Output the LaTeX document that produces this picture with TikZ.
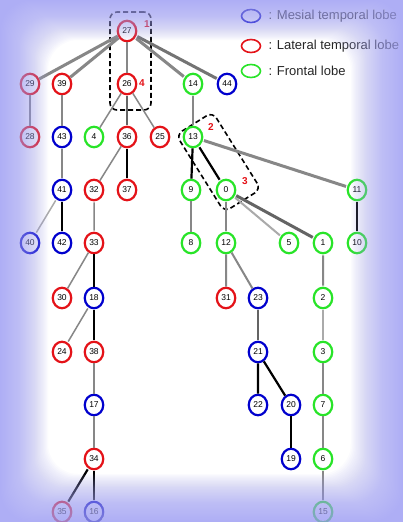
\documentclass[tikz,border=0pt]{standalone}
\usepackage{fontspec}
\setsansfont{Liberation Sans}
\usetikzlibrary{shapes.geometric,positioning}
\definecolor{mesialc}{RGB}{0,0,205}
\definecolor{lateralc}{RGB}{228,18,24}
\definecolor{frontalc}{RGB}{40,228,40}
\definecolor{lavc}{RGB}{165,165,245}
\definecolor{edgec}{RGB}{135,135,135}
\definecolor{edgedk}{RGB}{100,100,100}
\definecolor{edgelt}{RGB}{170,170,170}

\begin{document}
\begin{tikzpicture}[ % 图的属性
        x=1pt, y=-1pt, % 像素坐标, y 向下
        font=\sffamily,
        lobe/.style={ellipse, draw, fill=white, line width=2.2pt,
          minimum width=18.5pt, minimum height=20.5pt, inner sep=0pt,
          font=\sffamily\fontsize{8.5}{9}\selectfont},
        mes/.style={lobe, draw=mesialc}, % 内侧颞叶
        lat/.style={lobe, draw=lateralc}, % 外侧颞叶
        fro/.style={lobe, draw=frontalc}, % 额叶
        lk/.style={draw=edgec, line width=2pt, shorten <=1.1pt, shorten >=1.1pt},
        lkT/.style={lk, line width=3pt},
        lkS/.style={lk, line width=1.5pt},
        lkB/.style={lk, draw=black, line width=2.2pt},
        grp/.style={draw, line width=1.6pt, dash pattern=on 5pt off 3pt,
          rounded corners=7pt, inner sep=0pt},
        num/.style={text=lateralc, font=\sffamily\bfseries\fontsize{10}{12}\selectfont},
        legtext/.style={inner sep=0pt, text=black!85, font=\sffamily\fontsize{13}{15}\selectfont}
      ]
      \useasboundingbox (0,0) rectangle (403,522);
      \clip (0,0) rectangle (403,522);
      \fill[white] (0,0) rectangle (403,522);
      % \draw [help lines, step=20] (0,0) grid (403,522); % 辅助格点
      %% 分组虚线框
      \node[grp, minimum width=41, minimum height=98] (grpA) at (130.5,61) {};
      \node[grp, rotate=-58, minimum width=91, minimum height=43] (grpB) at (218.5,162) {};
      %% node
      \node[lat] (n27) at (127,31) {27};
      \node[lat] (n29) at (30,84) {29};
      \node[lat] (n39) at (62,84) {39};
      \node[lat] (n26) at (127,84) {26};
      \node[fro] (n14) at (193,84) {14};
      \node[mes] (n44) at (227,84) {44};
      \node[lat] (n28) at (30,137) {28};
      \node[mes] (n43) at (62,137) {43};
      \node[fro] (n4) at (94,137) {4};
      \node[lat] (n36) at (127,137) {36};
      \node[lat] (n25) at (160,137) {25};
      \node[fro] (n13) at (193,137) {13};
      \node[mes] (n41) at (62,190) {41};
      \node[lat] (n32) at (94,190) {32};
      \node[lat] (n37) at (127,190) {37};
      \node[fro] (n9) at (191,190) {9};
      \node[fro] (n0) at (226,190) {0};
      \node[fro] (n11) at (357,190) {11};
      \node[mes] (n40) at (30,243) {40};
      \node[mes] (n42) at (62,243) {42};
      \node[lat] (n33) at (94,243) {33};
      \node[fro] (n8) at (191,243) {8};
      \node[fro] (n12) at (226,243) {12};
      \node[fro] (n5) at (289,243) {5};
      \node[fro] (n1) at (323,243) {1};
      \node[fro] (n10) at (357,243) {10};
      \node[lat] (n30) at (62,298) {30};
      \node[mes] (n18) at (94,298) {18};
      \node[lat] (n31) at (226,298) {31};
      \node[mes] (n23) at (258,298) {23};
      \node[fro] (n2) at (323,298) {2};
      \node[lat] (n24) at (62,352) {24};
      \node[lat] (n38) at (94,352) {38};
      \node[mes] (n21) at (258,352) {21};
      \node[fro] (n3) at (323,352) {3};
      \node[mes] (n17) at (94,405) {17};
      \node[mes] (n22) at (258,405) {22};
      \node[mes] (n20) at (291,405) {20};
      \node[fro] (n7) at (323,405) {7};
      \node[lat] (n34) at (94,459) {34};
      \node[mes] (n19) at (291,459) {19};
      \node[fro] (n6) at (323,459) {6};
      \node[lat] (n35) at (62,512) {35};
      \node[mes] (n16) at (94,512) {16};
      \node[fro] (n15) at (323,512) {15};
      %% 编号
      \node[num] (lb1) at (147,24) {1};
      \node[num] (lb4) at (142,83) {4};
      \node[num] (lb2) at (211,127) {2};
      \node[num] (lb3) at (245,181) {3};
      %% path
      \draw[lkT] (n27) -- (n29) (n27) -- (n39) (n27) -- (n14);
      \draw[lkT, draw=edgedk!90] (n27) -- (n44);
      \draw[lk] (n27) -- (n26) (n29) -- (n28) (n39) -- (n43) (n43) -- (n41);
      \draw[lkS] (n26) -- (n4) (n26) -- (n25) (n36) -- (n32) (n32) -- (n33);
      \draw[lk, draw=edgedk] (n26) -- (n36);
      \draw[lkB] (n36) -- (n37);
      \draw[lk] (n14) -- (n13);
      \draw[lkB] (n13) -- (n9) (n13) -- (n0);
      \draw[lkT] (n13) -- (n11);
      \draw[lkS, draw=edgelt] (n41) -- (n40);
      \draw[lkB, line width=2.6pt] (n41) -- (n42);
      \draw[lk] (n9) -- (n8) (n0) -- (n12);
      \draw[lk, draw=edgelt] (n0) -- (n5);
      \draw[lkT, draw=edgedk] (n0) -- (n1);
      \draw[lkB, line width=2.6pt] (n11) -- (n10);
      \draw[lkS] (n33) -- (n30) (n18) -- (n24);
      \draw[lkB, line width=2.6pt] (n33) -- (n18) (n18) -- (n38);
      \draw[lk] (n12) -- (n31) (n12) -- (n23) (n1) -- (n2);
      \draw[lk, draw=edgedk] (n23) -- (n21);
      \draw[lk, draw=edgelt] (n2) -- (n3);
      \draw[lk] (n38) -- (n17) (n3) -- (n7) (n17) -- (n34) (n7) -- (n6) (n6) -- (n15);
      \draw[lkB] (n21) -- (n22) (n21) -- (n20) (n34) -- (n35);
      \draw[lkB, line width=2.6pt] (n20) -- (n19) (n34) -- (n16);
      %% 图例
      \node[ellipse, draw=mesialc, line width=1.6pt, minimum width=19, minimum height=13] (keyM) at (251,16) {};
      \node[ellipse, draw=lateralc, line width=1.6pt, minimum width=19, minimum height=13] (keyL) at (251,46) {};
      \node[ellipse, draw=frontalc, line width=1.6pt, minimum width=19, minimum height=13] (keyF) at (251,71) {};
      \node[legtext, right=7pt of keyM] (txtM) {: Mesial temporal lobe};
      \node[legtext, right=7pt of keyL] (txtL) {: Lateral temporal lobe};
      \node[legtext, right=7pt of keyF] (txtF) {: Frontal lobe};
      %% 边缘渐隐
      \foreach \i in {1,...,40}
        \fill[lavc, opacity=.04, even odd rule]
          (0,0) rectangle (403,522)
          [rounded corners=30pt] ({1.2*\i},{1*\i}) rectangle ({403-1.3*\i},{522-1.2*\i});
\end{tikzpicture}
\end{document}
